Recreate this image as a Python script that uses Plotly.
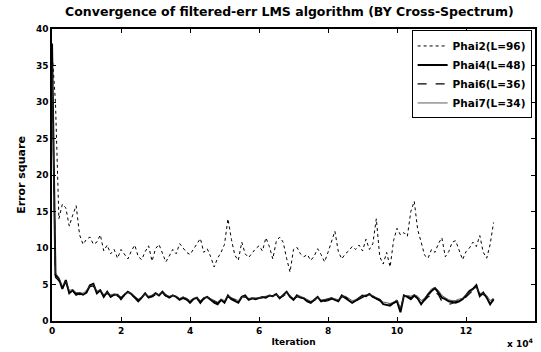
import plotly.graph_objects as go

# iteration axis in units of 1e4 samples
iters = [round(i * 0.1, 1) for i in range(129)]

phai2 = [37, 30, 14, 16, 15.5, 13, 14.5, 15.8, 11.8, 10.5,
         11.2, 11.5, 10.5, 10.8, 11.8, 9.6, 10.4, 9.2, 9.8, 8.6,
         9.8, 9.2, 8.5, 9.6, 10.4, 8.8, 8.4, 9.5, 10.3, 8.2,
         9.9, 10.5, 9.3, 8.1, 8.9, 9.8, 9.2, 10.6, 10.0, 9.4,
         9.1, 9.8, 10.5, 11.3, 9.4, 9.9, 8.8, 7.4, 8.6, 9.4,
         10.5, 14.0, 11.2, 9.0, 8.3, 10.8, 9.2, 8.7, 9.3, 9.9,
         10.3, 9.6, 11.4, 10.2, 8.5, 10.9, 11.5, 10.8, 8.6, 6.7,
         9.8, 10.1, 9.2, 8.8, 9.1, 8.3, 8.9, 9.9, 9.1, 8.1,
         9.4, 10.8, 12.3, 9.5, 8.5, 9.2, 9.6, 10.2, 9.8, 10.4,
         9.6, 11.2, 9.8, 10.6, 14.0, 8.8, 7.8, 9.4, 7.4, 11.0,
         12.7, 11.8, 12.1, 11.6, 15.0, 16.4, 12.5, 10.8, 9.0, 8.6,
         9.8, 9.4, 10.6, 11.4, 8.8, 9.5, 10.8, 11.0, 9.6, 8.4,
         9.5, 10.0, 10.8, 10.2, 11.7, 9.4, 8.6, 10.5, 13.5]

phai4 = [38, 6.3, 5.8, 4.4, 5.6, 3.8, 4.2, 3.6, 3.8, 3.6,
         3.9, 4.9, 5.1, 3.8, 4.2, 3.3, 4.0, 3.3, 3.6, 3.6,
         3.0, 3.6, 4.0, 3.7, 3.2, 2.7, 3.2, 3.8, 3.2, 3.4,
         3.8, 3.5, 4.0, 3.5, 3.2, 3.5, 3.3, 2.9, 3.2, 3.0,
         2.5, 3.0, 3.2, 2.5, 3.1, 3.3, 2.9, 2.5, 2.3, 2.9,
         2.5, 3.5, 3.0, 2.7, 2.5, 3.3, 3.5, 2.9, 3.1, 3.0,
         3.1, 3.3, 3.2, 3.5, 3.4, 3.7, 3.1, 3.6, 4.0, 3.3,
         2.9, 3.5, 3.2, 3.1, 2.7, 2.5, 2.9, 3.3, 2.7, 2.8,
         2.9, 3.1, 2.9, 2.7, 3.5, 3.2, 2.9, 2.5, 2.8, 3.1,
         3.5, 3.4, 3.7, 3.3, 3.1, 2.9, 2.3, 2.2, 2.1, 2.5,
         2.7, 1.2, 3.5, 3.3, 3.0, 3.5, 3.1, 2.3, 3.0, 3.6,
         4.1, 4.5, 3.9, 3.2, 3.0, 2.7, 2.6, 2.5, 2.7, 3.0,
         3.5, 4.1, 4.4, 4.9, 3.4, 3.9, 3.2, 2.3, 3.0]

phai6 = [36, 6.0, 5.5, 4.6, 5.3, 4.0, 4.0, 3.8, 3.6, 3.7,
         4.1, 4.7, 4.8, 4.0, 4.0, 3.5, 3.8, 3.4, 3.5, 3.4,
         3.2, 3.5, 3.8, 3.6, 3.3, 2.9, 3.1, 3.6, 3.3, 3.3,
         3.6, 3.6, 3.8, 3.4, 3.3, 3.4, 3.2, 3.0, 3.1, 2.9,
         2.7, 2.9, 3.0, 2.7, 3.0, 3.1, 3.0, 2.7, 2.5, 2.8,
         2.7, 3.3, 3.1, 2.8, 2.7, 3.2, 3.3, 3.0, 3.0, 3.1,
         3.0, 3.2, 3.3, 3.4, 3.3, 3.5, 3.2, 3.4, 3.8, 3.4,
         3.0, 3.3, 3.3, 3.0, 2.8, 2.6, 2.8, 3.1, 2.8, 2.7,
         2.8, 3.0, 3.0, 2.8, 3.3, 3.3, 3.0, 2.7, 2.7, 3.0,
         3.3, 3.5, 3.5, 3.4, 3.0, 2.8, 2.5, 2.3, 2.3, 2.4,
         2.8, 1.6, 3.3, 3.4, 3.2, 3.4, 3.3, 2.6, 2.8, 3.3,
         3.6, 4.0, 3.6, 2.7, 2.4, 2.3, 2.4, 2.6, 2.9, 2.8,
         3.3, 3.8, 4.2, 4.4, 3.7, 3.6, 3.4, 2.6, 2.8]

phai7 = [35, 6.6, 5.9, 4.8, 5.4, 4.2, 4.3, 3.9, 3.9, 3.8,
         4.2, 4.8, 5.0, 4.1, 4.3, 3.6, 3.9, 3.6, 3.7, 3.6,
         3.3, 3.7, 3.9, 3.8, 3.4, 3.0, 3.3, 3.7, 3.4, 3.5,
         3.7, 3.6, 3.9, 3.6, 3.4, 3.5, 3.4, 3.1, 3.3, 3.1,
         2.8, 3.1, 3.2, 2.8, 3.2, 3.3, 3.1, 2.8, 2.6, 3.0,
         2.8, 3.4, 3.2, 2.9, 2.8, 3.3, 3.4, 3.1, 3.1, 3.2,
         3.2, 3.3, 3.4, 3.5, 3.4, 3.6, 3.3, 3.5, 3.9, 3.5,
         3.1, 3.4, 3.4, 3.2, 2.9, 2.7, 2.9, 3.2, 2.9, 2.9,
         3.0, 3.2, 3.1, 2.9, 3.4, 3.4, 3.1, 2.8, 2.9, 3.2,
         3.4, 3.6, 3.6, 3.5, 3.2, 3.0, 2.6, 2.5, 2.4, 2.6,
         2.9, 1.8, 3.4, 3.5, 3.4, 3.6, 3.4, 2.8, 3.1, 3.8,
         4.4, 4.6, 4.2, 3.5, 3.2, 2.9, 2.8, 2.8, 3.0, 3.1,
         3.6, 4.0, 4.3, 4.6, 3.8, 3.8, 3.5, 2.8, 3.1]

x_ticks = [0, 2, 4, 6, 8, 10, 12, 14]
y_ticks = [0, 5, 10, 15, 20, 25, 30, 35, 40]

FONT = "DejaVu Sans"

fig = go.Figure()
fig.add_trace(go.Scatter(x=iters, y=phai2, mode="lines", name="<b>Phai2(L=96)</b>",
                         line=dict(color="black", width=1, dash="dot")))
fig.add_trace(go.Scatter(x=iters, y=phai4, mode="lines", name="<b>Phai4(L=48)</b>",
                         line=dict(color="black", width=2)))
fig.add_trace(go.Scatter(x=iters, y=phai6, mode="lines", name="<b>Phai6(L=36)</b>",
                         line=dict(color="black", width=1.2, dash="dash")))
fig.add_trace(go.Scatter(x=iters, y=phai7, mode="lines", name="<b>Phai7(L=34)</b>",
                         line=dict(color="#333333", width=0.8)))

axis_common = dict(showline=True, linecolor="black", linewidth=1.5, mirror="ticks",
                   ticks="inside", ticklen=4, tickwidth=1.2, tickcolor="black",
                   showgrid=False, zeroline=False,
                   tickfont=dict(family=FONT, size=9, color="black", weight="bold"))

fig.update_layout(
    width=541, height=352,
    margin=dict(l=52, r=4, t=29, b=31),
    paper_bgcolor="white", plot_bgcolor="white",
    title=dict(text="<b>Convergence of filtered-err LMS algorithm (BY Cross-Spectrum)</b>",
               x=0.535, xanchor="center", y=0.978, yanchor="top",
               font=dict(family=FONT, size=12.5, color="black")),
    xaxis=dict(range=[0, 14], tickvals=x_ticks, ticktext=[str(v) for v in x_ticks],
               title=dict(text="<b>Iteration</b>", standoff=4,
                          font=dict(family=FONT, size=9, color="black")),
               **axis_common),
    yaxis=dict(range=[0, 40], tickvals=y_ticks, ticktext=[str(v) for v in y_ticks],
               title=dict(text="<b>Error square</b>", standoff=8,
                          font=dict(family=FONT, size=11, color="black")),
               **axis_common),
    legend=dict(x=0.993, xanchor="right", y=0.995, yanchor="top",
                bgcolor="white", bordercolor="black", borderwidth=1,
                font=dict(family=FONT, size=10.5, color="black"),
                tracegroupgap=0, itemwidth=30),
    showlegend=True,
)

fig.add_annotation(x=1.0, y=0, xref="paper", yref="paper", xanchor="right", yanchor="top",
                   yshift=-14, text="<b>x 10<sup>4</sup></b>", showarrow=False,
                   font=dict(family=FONT, size=9, color="black"))

fig.write_html("out.html")
